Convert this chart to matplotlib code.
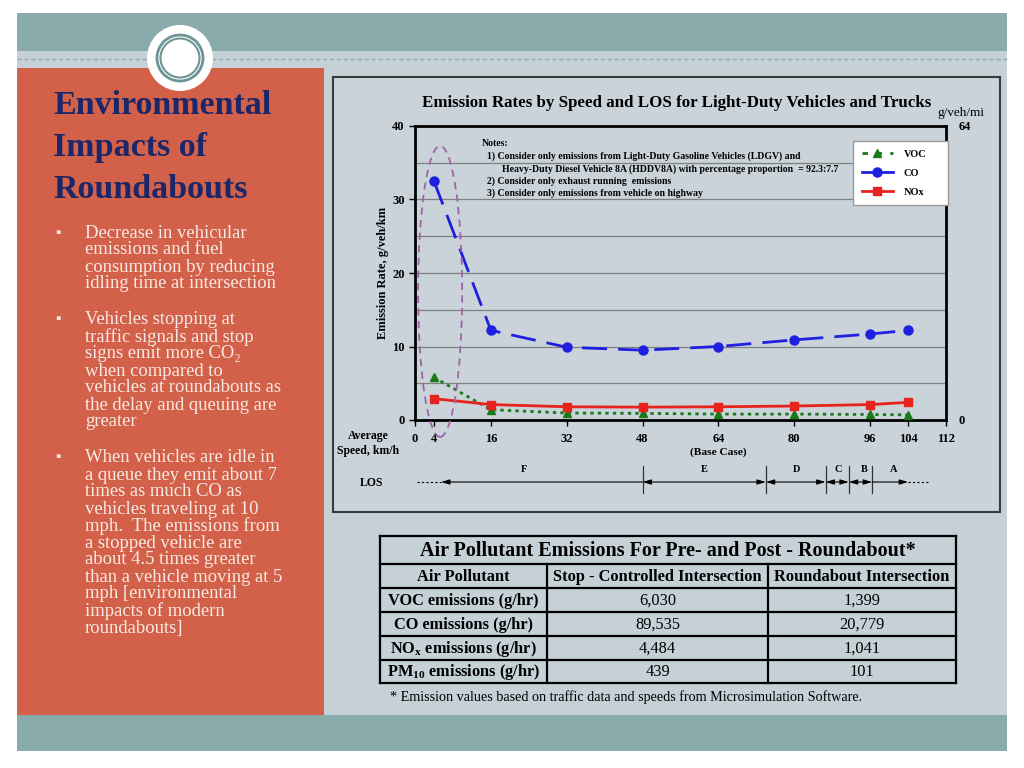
import matplotlib
matplotlib.use('Agg')
import matplotlib.pyplot as plt
from matplotlib.patches import Rectangle, Circle, Ellipse
from matplotlib.lines import Line2D
from matplotlib import transforms

# ---- chart data ----
speed = [4, 16, 32, 48, 64, 80, 96, 104]
co_rate = [32.5, 12.2, 9.9, 9.5, 10.0, 10.9, 11.7, 12.2]
nox_rate = [2.9, 2.1, 1.8, 1.75, 1.8, 1.9, 2.1, 2.4]
voc_rate = [5.8, 1.4, 0.95, 0.9, 0.8, 0.8, 0.75, 0.7]

speed_ticks = [0, 4, 16, 32, 48, 64, 80, 96, 104, 112]
rate_ticks = [0, 10, 20, 30, 40]
mi_ticks = [0, 64]

los_names = ['F', 'E', 'D', 'C', 'B', 'A']
los_edges = [5.5, 48, 74, 86.6, 91.5, 96.4, 104]
los_label_at = [23, 61, 80.5, 89.2, 94.8, 101]

notes = ['Notes:',
         '1) Consider only emissions from Light-Duty Gasoline Vehicles (LDGV) and',
         'Heavy-Duty Diesel Vehicle 8A (HDDV8A) with percentage proportion  = 92.3:7.7',
         '2) Consider only exhaust running  emissions',
         '3) Consider only emissions from vehicle on highway']

# ---- table data ----
table_title = 'Air Pollutant Emissions For Pre- and Post - Roundabout*'
col_headers = ['Air Pollutant', 'Stop - Controlled Intersection', 'Roundabout Intersection']
pollutants = ['VOC emissions (g/hr)', 'CO emissions (g/hr)',
              r'NO$_\mathbf{x}$ emissions (g/hr)', r'PM$_\mathbf{10}$ emissions (g/hr)']
stop_controlled = [6030, 89535, 4484, 439]
roundabout = [1399, 20779, 1041, 101]
footnote = '* Emission values based on traffic data and speeds from Microsimulation Software.'

# ---- slide text ----
slide_title = ['Environmental', 'Impacts of', 'Roundabouts']
bullets = [
    ['Decrease in vehicular', 'emissions and fuel', 'consumption by reducing',
     'idling time at intersection'],
    ['Vehicles stopping at', 'traffic signals and stop', u'signs emit more CO\u2082',
     'when compared to', 'vehicles at roundabouts as', 'the delay and queuing are', 'greater'],
    ['When vehicles are idle in', 'a queue they emit about 7', 'times as much CO as',
     'vehicles traveling at 10', 'mph.  The emissions from', 'a stopped vehicle are',
     'about 4.5 times greater', 'than a vehicle moving at 5', 'mph [environmental',
     'impacts of modern', 'roundabouts]'],
]

plt.rcParams['font.family'] = ['Liberation Serif', 'DejaVu Serif']
plt.rcParams['mathtext.fontset'] = 'custom'
plt.rcParams['mathtext.rm'] = 'Liberation Serif'
plt.rcParams['mathtext.bf'] = 'Liberation Serif:bold'

W, H = 1024, 768
fig = plt.figure(figsize=(W / 100, H / 100), dpi=100)
fig.patch.set_facecolor('white')
px = transforms.Affine2D().scale(1 / W, -1 / H).translate(0, 1) + fig.transFigure

TEAL = '#8aabab'
SLIDE_BG = '#c5d1d7'
ORANGE = '#d3614a'


def rect(x0, y0, x1, y1, z=-10, **kw):
    fig.add_artist(Rectangle((x0, y0), x1 - x0, y1 - y0, transform=px, zorder=z, **kw))


def ftext(x, y, s, **kw):
    fig.text(x, y, s, transform=px, **kw)


# slide background
rect(17, 13, 1007, 751, facecolor=SLIDE_BG, edgecolor='none')
rect(17, 13, 1007, 51, facecolor=TEAL, edgecolor='none')
rect(17, 715, 1007, 751, facecolor=TEAL, edgecolor='none')
fig.add_artist(Line2D([17, 1007], [59, 59], transform=px, color='#93adb3', lw=1,
                      ls=(0, (3, 2)), zorder=-9))
rect(17, 68, 324, 715, facecolor=ORANGE, edgecolor='none', z=-8)
fig.add_artist(Circle((180, 58), 33, transform=px, facecolor='white', edgecolor='none', zorder=-7))
fig.add_artist(Circle((180, 58), 23, transform=px, facecolor='none', edgecolor='#6d9494', lw=2, zorder=-6))
fig.add_artist(Circle((180, 58), 19.5, transform=px, facecolor='none', edgecolor='#6d9494', lw=1.5, zorder=-6))

# left panel text
for i, line in enumerate(slide_title):
    ftext(53, 114 + i * 42, line, fontsize=24.5, fontweight='bold', color='#1b2768', va='baseline')

y = 233
for b in bullets:
    ftext(55, y, u'\u25aa', fontsize=11, color='#f7e9e4', va='center')
    for line in b:
        ftext(85, y, line, fontsize=13.4, color='#f7e9e4', va='center')
        y += 17
    y += 19

# chart frame
rect(333, 77, 1000, 512, facecolor='#c9d3d9', edgecolor='#3a3a3a', lw=1.5, z=-5)
ftext(677, 103, 'Emission Rates by Speed and LOS for Light-Duty Vehicles and Trucks',
      fontsize=12.2, fontweight='bold', ha='center', va='center')
ftext(961, 113, 'g/veh/mi', fontsize=9.5, ha='center', va='center')

ax = fig.add_axes([415 / W, 1 - 420 / H, 531 / W, 294 / H])
ax.set_facecolor('none')
ax.set_xlim(0, 112)
ax.set_ylim(0, 40)
for y5 in range(5, 40, 5):
    ax.axhline(y5, color='#808080', lw=0.9, zorder=0)

ax.plot(speed, voc_rate, color='#1a7a1a', lw=2, ls=(0, (1.2, 1.5)), marker='^', ms=6, zorder=3)
ax.plot(speed, co_rate, color='#1f1fe0', lw=2, ls=(0, (9, 4)), marker='o', ms=6.5, zorder=3)
ax.plot(speed, nox_rate, color='#e8231e', lw=2, marker='s', ms=6, zorder=4)

ax.add_patch(Ellipse((5.3, 17.5), 9.3, 39.6, facecolor='none', edgecolor='#a063aa', lw=1.3,
                     ls=(0, (4, 3)), clip_on=False, zorder=5))

ax.set_xticks(speed_ticks)
ax.set_yticks(rate_ticks)
ax.tick_params(axis='both', labelsize=9, length=4, width=1)
ax.tick_params(axis='x', pad=5)
for lab in ax.get_xticklabels() + ax.get_yticklabels():
    lab.set_fontweight('bold')
for s in ax.spines.values():
    s.set_linewidth(2)
ax.set_ylabel('Emission Rate, g/veh/km', fontsize=9, fontweight='bold', labelpad=2)

ax2 = ax.twinx()
ax2.set_ylim(0, 64)
ax2.set_yticks(mi_ticks)
ax2.tick_params(axis='y', labelsize=9, length=0, pad=9)
for lab in ax2.get_yticklabels():
    lab.set_fontweight('bold')
for s in ax2.spines.values():
    s.set_visible(False)

# legend with its own white box
ax2.add_artist(Rectangle((853, 141), 95, 64, transform=px, facecolor='white',
                         edgecolor='#999999', lw=1, zorder=6, clip_on=False))
handles = [Line2D([], [], color='#1a7a1a', lw=2, ls=(0, (2, 3)), marker='^', ms=6),
           Line2D([], [], color='#1f1fe0', lw=2, marker='o', ms=6.5),
           Line2D([], [], color='#e8231e', lw=2, marker='s', ms=6)]
leg = ax2.legend(handles, ['VOC', 'CO', 'NOx'], loc='upper left',
                 bbox_to_anchor=(854 / W, 1 - 141 / H), bbox_transform=fig.transFigure,
                 prop={'weight': 'bold', 'size': 7.5}, frameon=False, handlelength=2.9,
                 handletextpad=1.05, labelspacing=0.95, borderpad=0.8, borderaxespad=0)
leg.set_zorder(7)

# notes
ftext(482, 143, notes[0], fontsize=7, fontweight='bold', va='center')
ftext(487, 156, notes[1], fontsize=7, fontweight='bold', va='center')
ftext(502, 169, notes[2], fontsize=7, fontweight='bold', va='center')
ftext(487, 181, notes[3], fontsize=7, fontweight='bold', va='center')
ftext(487, 193, notes[4], fontsize=7, fontweight='bold', va='center')

# axis captions under the chart
ftext(368, 436, 'Average', fontsize=8.5, fontweight='bold', ha='center', va='center')
ftext(368, 451, 'Speed, km/h', fontsize=8.5, fontweight='bold', ha='center', va='center')
bt = transforms.blended_transform_factory(ax.transData, px)
ax.text(64, 452, '(Base Case)', transform=bt, fontsize=8.2, fontweight='bold',
        ha='center', va='center')

# LOS row
ftext(372, 483, 'LOS', fontsize=8.5, fontweight='bold', ha='center', va='center')
los_y = 482
ax.add_line(Line2D([0.5, los_edges[0]], [los_y, los_y], transform=bt, color='black', lw=0.8,
                   ls=(0, (2, 2)), clip_on=False))
ax.add_line(Line2D([los_edges[-1], 108.7], [los_y, los_y], transform=bt, color='black', lw=0.8,
                   ls=(0, (2, 2)), clip_on=False))
for i, name in enumerate(los_names):
    x0, x1 = los_edges[i], los_edges[i + 1]
    if i == 0:
        style = '<|-'
    elif i == len(los_names) - 1:
        style = '-|>'
    else:
        style = '<|-|>'
    ax.annotate('', xy=(x1, los_y), xytext=(x0, los_y), xycoords=bt, textcoords=bt,
                arrowprops=dict(arrowstyle=style + ',head_length=0.5,head_width=0.15',
                                color='black', lw=0.8, shrinkA=0, shrinkB=0),
                annotation_clip=False)
    ax.text(los_label_at[i], 470, name, transform=bt, fontsize=7.5, fontweight='bold',
            ha='center', va='center')
for xe in los_edges[1:-1]:
    ax.add_line(Line2D([xe, xe], [466, 493], transform=bt, color='#333333', lw=0.9,
                       clip_on=False))

# table
cols = [380, 547, 768, 956]
rows = [536, 564, 588, 612, 636, 660, 683]
for yy in rows:
    fig.add_artist(Line2D([cols[0], cols[-1]], [yy, yy], transform=px, color='black', lw=1.6))
for j, xx in enumerate(cols):
    top = rows[0] if j in (0, len(cols) - 1) else rows[1]
    fig.add_artist(Line2D([xx, xx], [top, rows[-1]], transform=px, color='black', lw=1.6))
ftext((cols[0] + cols[-1]) / 2, (rows[0] + rows[1]) / 2 + 1, table_title, fontsize=14.5,
      fontweight='bold', ha='center', va='center')
for j, h in enumerate(col_headers):
    ftext((cols[j] + cols[j + 1]) / 2, (rows[1] + rows[2]) / 2 + 1, h, fontsize=11.8,
          fontweight='bold', ha='center', va='center')
for i in range(len(pollutants)):
    yc = (rows[i + 2] + rows[i + 3]) / 2 + 1
    ftext((cols[0] + cols[1]) / 2, yc, pollutants[i], fontsize=11.8, fontweight='bold',
          ha='center', va='center')
    ftext((cols[1] + cols[2]) / 2, yc, f'{stop_controlled[i]:,}', fontsize=11.8,
          ha='center', va='center')
    ftext((cols[2] + cols[3]) / 2, yc, f'{roundabout[i]:,}', fontsize=11.8,
          ha='center', va='center')
ftext(390, 697, footnote, fontsize=10.2, ha='left', va='center')

fig.savefig('out.png', dpi=100)
